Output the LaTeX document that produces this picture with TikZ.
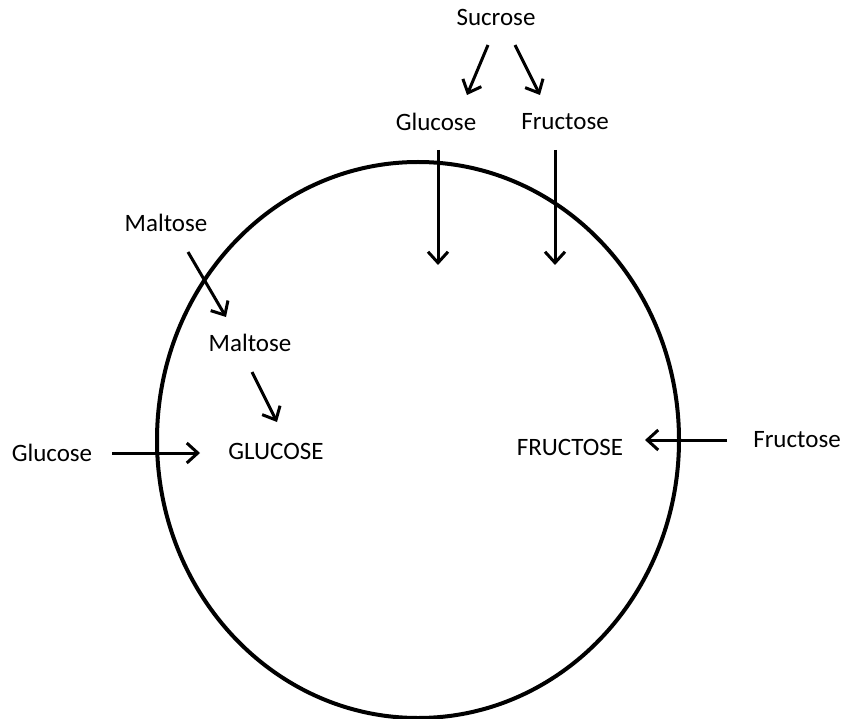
\documentclass[tikz,border=0pt]{standalone}
\usepackage{fontspec}
\setmainfont{Carlito}
\usetikzlibrary{arrows.meta}
\begin{document}
\begin{tikzpicture}[x=1pt,y=-1pt,
  lbl/.style={inner sep=0pt, font=\fontsize{25}{30}\selectfont},
  arr/.style={line width=3pt, -{Straight Barb[length=11pt,width=20pt]}},
  cellwall/.style={line width=4pt}]
\useasboundingbox[fill=white] (0,0) rectangle (843,719);
% cell
\draw[cellwall] (418,440) ellipse [x radius=261, y radius=278];
% labels
\node[lbl] (suc) at (496,17) {Sucrose};
\node[lbl] (gtop) at (436,122) {Glucose};
\node[lbl] (ftop) at (565,122) {Fructose};
\node[lbl] (mal1) at (166,223) {Maltose};
\node[lbl] (mal2) at (250,343) {Maltose};
\node[lbl] (GLU) at (276,451) {GLUCOSE};
\node[lbl] (FRU) at (570,447) {FRUCTOSE};
\node[lbl] (gleft) at (52,453) {Glucose};
\node[lbl] (fright) at (797,440) {Fructose};
\coordinate (gin) at (438,265);
\coordinate (fin) at (555,265);
% arrows
\draw[arr] ([shift={(-8,28)}]suc.center) -- ([shift={(31,-27)}]gtop.center);
\draw[arr] ([shift={(19,28)}]suc.center) -- ([shift={(-25,-27)}]ftop.center);
\draw[arr] ([shift={(2,28)}]gtop.center) -- (gin);
\draw[arr] ([shift={(-10,28)}]ftop.center) -- (fin);
\draw[arr] ([shift={(22,29)}]mal1.center) -- ([shift={(-24,-26)}]mal2.center);
\draw[arr] ([shift={(2,29)}]mal2.center) -- ([shift={(1,-29)}]GLU.center);
\draw[arr] ([shift={(60,0)}]gleft.center) -- ([shift={(-76,2)}]GLU.center);
\draw[arr] ([shift={(-70,0)}]fright.center) -- ([shift={(75,-7)}]FRU.center);
\end{tikzpicture}
\end{document}
